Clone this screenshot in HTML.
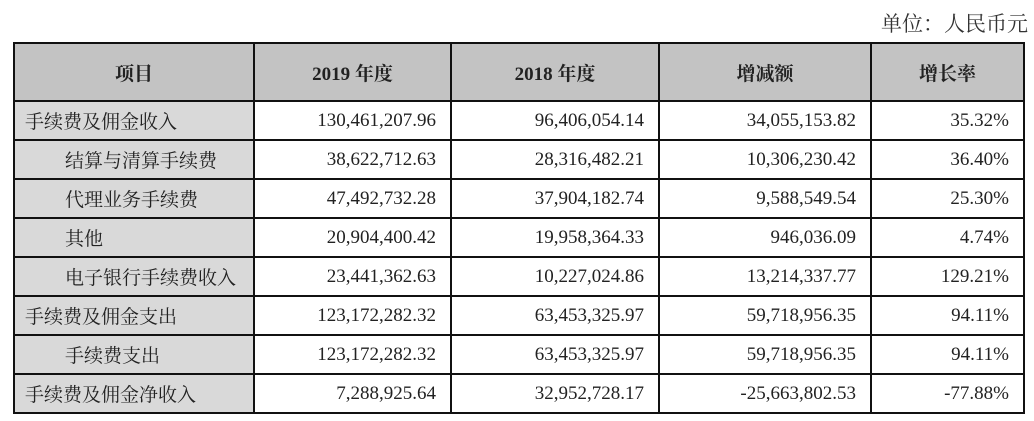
<!DOCTYPE html>
<html><head><meta charset="utf-8"><style>
body{margin:0;width:1034px;height:421px;background:#fff;position:relative;overflow:hidden;font-family:"Liberation Serif","Noto Serif CJK SC",serif;color:#222}
.unit{position:absolute;right:6px;top:8px;font-size:21px;color:#333}
table{position:absolute;left:13px;top:42px;border-collapse:collapse;table-layout:fixed}
td{border:2px solid #111;font-size:19px;padding:0 14px;height:37px;text-align:right;white-space:nowrap}
tr.h td{height:56px;background:#c3c3c3;text-align:center;font-weight:bold}
td.n{background:#d9d9d9;text-align:left;padding-left:10px}
td.i{padding-left:50px}
</style></head><body>
<div class="unit">单位：人民币元</div>
<table>
<colgroup><col style="width:240px"><col style="width:197px"><col style="width:208px"><col style="width:212px"><col style="width:153px"></colgroup>
<tr class="h"><td>项目</td><td>2019 年度</td><td>2018 年度</td><td>增减额</td><td>增长率</td></tr>
<tr><td class="n">手续费及佣金收入</td><td>130,461,207.96</td><td>96,406,054.14</td><td>34,055,153.82</td><td>35.32%</td></tr>
<tr><td class="n i">结算与清算手续费</td><td>38,622,712.63</td><td>28,316,482.21</td><td>10,306,230.42</td><td>36.40%</td></tr>
<tr><td class="n i">代理业务手续费</td><td>47,492,732.28</td><td>37,904,182.74</td><td>9,588,549.54</td><td>25.30%</td></tr>
<tr><td class="n i">其他</td><td>20,904,400.42</td><td>19,958,364.33</td><td>946,036.09</td><td>4.74%</td></tr>
<tr><td class="n i">电子银行手续费收入</td><td>23,441,362.63</td><td>10,227,024.86</td><td>13,214,337.77</td><td>129.21%</td></tr>
<tr><td class="n">手续费及佣金支出</td><td>123,172,282.32</td><td>63,453,325.97</td><td>59,718,956.35</td><td>94.11%</td></tr>
<tr><td class="n i">手续费支出</td><td>123,172,282.32</td><td>63,453,325.97</td><td>59,718,956.35</td><td>94.11%</td></tr>
<tr><td class="n">手续费及佣金净收入</td><td>7,288,925.64</td><td>32,952,728.17</td><td>-25,663,802.53</td><td>-77.88%</td></tr>
</table>
</body></html>
